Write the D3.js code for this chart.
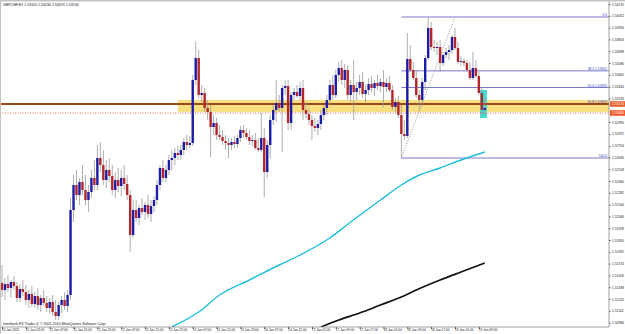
<!DOCTYPE html>
<html>
<head>
<meta charset="utf-8">
<script src="https://cdn.jsdelivr.net/npm/d3@7"></script>
<style>
body{margin:0;background:#fff;}
svg{display:block;}
text{font-family:"Liberation Sans",Arial,sans-serif;}
</style>
</head>
<body>
<div class="plots"></div>
<script>
var symbol = "GBPCHF,H1";

// hourly bars, 10 Jan - 19 Jan 2011
var opens = [1.5138,1.5131,1.5137,1.5133,1.5139,1.5135,1.5123,1.5132,1.5129,1.5121,1.5127,1.5117,1.5125,1.5116,1.5123,1.5118,1.5113,1.5119,1.5109,1.5105,
1.5116,1.5121,1.5115,1.5126,1.5211,1.5236,1.5226,1.5239,1.5231,1.5221,1.5229,1.5243,1.5236,1.5263,1.5256,1.5241,1.5251,1.5245,1.5231,1.5241,
1.5235,1.5243,1.5237,1.5226,1.5186,1.5211,1.5203,1.5213,1.5209,1.5216,1.5207,1.5215,1.5221,1.5236,1.5253,1.5243,1.5251,1.5261,1.5263,1.5268,
1.5266,1.5271,1.5279,1.5276,1.5278,1.5341,1.5363,1.5326,1.5328,1.5313,1.5309,1.5294,1.5298,1.5286,1.5284,1.5280,1.5278,1.5276,1.5279,1.5277,
1.5283,1.5291,1.5288,1.5284,1.5280,1.5281,1.5273,1.5271,1.5283,1.5249,1.5276,1.5301,1.5311,1.5318,1.5313,1.5333,1.5335,1.5298,1.5326,1.5329,
1.5325,1.5333,1.5311,1.5307,1.5301,1.5295,1.5293,1.5297,1.5306,1.5313,1.5321,1.5336,1.5326,1.5346,1.5353,1.5341,1.5351,1.5326,1.5336,1.5329,
1.5333,1.5339,1.5327,1.5331,1.5337,1.5333,1.5338,1.5335,1.5339,1.5334,1.5338,1.5331,1.5314,1.5319,1.5306,1.5287,1.5285,1.5362,1.5351,1.5343,
1.5326,1.5321,1.5339,1.5363,1.5393,1.5374,1.5373,1.5374,1.5358,1.5366,1.5369,1.5371,1.5384,1.5373,1.5359,1.5360,1.5358,1.5351,1.5343,1.5353,
1.5345,1.5328,1.5311];
var highs = [1.5156,1.5143,1.5146,1.5141,1.5145,1.5139,1.5137,1.5141,1.5136,1.5131,1.5135,1.5129,1.5133,1.5126,1.5131,1.5125,1.5123,1.5126,1.5121,1.5119,
1.5125,1.5129,1.5131,1.5223,1.5246,1.5251,1.5243,1.5256,1.5246,1.5236,1.5251,1.5261,1.5276,1.5279,1.5271,1.5261,1.5263,1.5256,1.5249,1.5253,
1.5251,1.5256,1.5246,1.5231,1.5221,1.5221,1.5216,1.5223,1.5219,1.5226,1.5221,1.5225,1.5241,1.5256,1.5261,1.5256,1.5266,1.5271,1.5273,1.5275,
1.5276,1.5283,1.5286,1.5285,1.5346,1.5379,1.5371,1.5336,1.5333,1.5321,1.5316,1.5306,1.5303,1.5296,1.5291,1.5286,1.5283,1.5283,1.5285,1.5286,
1.5295,1.5296,1.5293,1.5291,1.5286,1.5288,1.5283,1.5308,1.5293,1.5281,1.5306,1.5316,1.5341,1.5326,1.5336,1.5341,1.5341,1.5329,1.5333,1.5336,
1.5339,1.5341,1.5319,1.5313,1.5306,1.5303,1.5301,1.5311,1.5316,1.5326,1.5341,1.5346,1.5351,1.5359,1.5361,1.5357,1.5356,1.5341,1.5361,1.5339,
1.5346,1.5349,1.5336,1.5343,1.5345,1.5341,1.5346,1.5343,1.5351,1.5343,1.5345,1.5336,1.5323,1.5325,1.5316,1.5301,1.5388,1.5376,1.5359,1.5351,
1.5331,1.5343,1.5366,1.5404,1.5399,1.5381,1.5379,1.5381,1.5369,1.5373,1.5376,1.5386,1.5393,1.5379,1.5365,1.5363,1.5361,1.5359,1.5369,1.5361,
1.5349,1.5333,1.5323];
var lows = [1.5124,1.5121,1.5129,1.5123,1.5131,1.5119,1.5119,1.5125,1.5116,1.5113,1.5114,1.5113,1.5111,1.5109,1.5115,1.5109,1.5107,1.5105,1.5101,1.5101,
1.5108,1.5111,1.5109,1.5121,1.5199,1.5221,1.5216,1.5226,1.5216,1.5209,1.5223,1.5231,1.5231,1.5249,1.5236,1.5233,1.5239,1.5226,1.5223,1.5229,
1.5225,1.5231,1.5221,1.5169,1.5183,1.5199,1.5196,1.5206,1.5201,1.5203,1.5199,1.5209,1.5216,1.5231,1.5239,1.5239,1.5246,1.5251,1.5256,1.5261,
1.5261,1.5266,1.5271,1.5273,1.5275,1.5336,1.5323,1.5319,1.5309,1.5301,1.5264,1.5286,1.5281,1.5281,1.5276,1.5271,1.5263,1.5271,1.5273,1.5273,
1.5279,1.5283,1.5281,1.5276,1.5275,1.5271,1.5269,1.5269,1.5224,1.5243,1.5263,1.5296,1.5299,1.5309,1.5269,1.5326,1.5291,1.5291,1.5321,1.5323,
1.5321,1.5301,1.5303,1.5296,1.5281,1.5289,1.5286,1.5291,1.5301,1.5306,1.5316,1.5321,1.5323,1.5339,1.5336,1.5333,1.5321,1.5319,1.5301,1.5321,
1.5326,1.5323,1.5319,1.5326,1.5329,1.5325,1.5331,1.5329,1.5314,1.5329,1.5329,1.5311,1.5309,1.5303,1.5263,1.5281,1.5283,1.5349,1.5341,1.5323,
1.5311,1.5315,1.5331,1.5361,1.5371,1.5369,1.5366,1.5349,1.5355,1.5363,1.5361,1.5367,1.5371,1.5357,1.5355,1.5355,1.5349,1.5341,1.5341,1.5343,
1.5326,1.5305,1.5307];
var closes = [1.5131,1.5137,1.5133,1.5139,1.5135,1.5123,1.5132,1.5129,1.5121,1.5127,1.5117,1.5125,1.5116,1.5123,1.5118,1.5113,1.5119,1.5109,1.5105,1.5116,
1.5121,1.5115,1.5126,1.5211,1.5236,1.5226,1.5239,1.5231,1.5221,1.5229,1.5243,1.5236,1.5263,1.5256,1.5241,1.5251,1.5245,1.5231,1.5241,1.5235,
1.5243,1.5237,1.5226,1.5186,1.5211,1.5203,1.5213,1.5209,1.5216,1.5207,1.5215,1.5221,1.5236,1.5253,1.5243,1.5251,1.5261,1.5263,1.5268,1.5266,
1.5271,1.5279,1.5276,1.5278,1.5341,1.5363,1.5326,1.5328,1.5313,1.5309,1.5294,1.5298,1.5286,1.5284,1.5280,1.5278,1.5276,1.5279,1.5277,1.5283,
1.5291,1.5288,1.5284,1.5280,1.5281,1.5273,1.5271,1.5283,1.5249,1.5276,1.5301,1.5311,1.5318,1.5313,1.5333,1.5335,1.5298,1.5326,1.5329,1.5325,
1.5333,1.5311,1.5307,1.5301,1.5295,1.5293,1.5297,1.5306,1.5313,1.5321,1.5336,1.5326,1.5346,1.5353,1.5341,1.5351,1.5326,1.5336,1.5329,1.5333,
1.5339,1.5327,1.5331,1.5337,1.5333,1.5338,1.5335,1.5339,1.5334,1.5338,1.5331,1.5314,1.5319,1.5306,1.5287,1.5285,1.5362,1.5351,1.5343,1.5326,
1.5321,1.5339,1.5363,1.5393,1.5374,1.5373,1.5374,1.5358,1.5366,1.5369,1.5371,1.5384,1.5373,1.5359,1.5360,1.5358,1.5351,1.5343,1.5353,1.5345,
1.5328,1.5311,1.5313];

var timeLabels = ["10 Jan 2011","10 Jan 23:00","11 Jan 07:00","11 Jan 15:00","11 Jan 23:00","12 Jan 07:00","12 Jan 15:00",
"12 Jan 23:00","13 Jan 07:00","13 Jan 15:00","13 Jan 23:00","14 Jan 07:00","14 Jan 15:00","17 Jan 01:00",
"17 Jan 09:00","17 Jan 17:00","18 Jan 01:00","18 Jan 09:00","18 Jan 17:00","19 Jan 01:00","19 Jan 09:00"];
var priceTicks = [1.54170,1.54052,1.53934,1.53816,1.53698,1.53580,1.53462,1.53344,1.53226,1.53108,1.52990,1.52872,1.52754,1.52636,
1.52518,1.52400,1.52282,1.52164,1.52046,1.51928,1.51810,1.51692,1.51574,1.51456,1.51338,1.51220,1.51102,1.50984];

// moving averages, read at a few bars
var maCyanIdx = [57,66,73,83,93,100,110,117,127,134,140,147,154,162];
var maCyanVal = [1.5094,1.5109,1.5126,1.5141,1.5156,1.5166,1.5183,1.5199,1.5221,1.5236,1.5246,1.5253,1.5261,1.5269];
var maBlackIdx = [107,113,120,127,134,139,147,154,162];
var maBlackVal = [1.5094,1.5101,1.5108,1.5116,1.5124,1.5131,1.5141,1.5149,1.5158];

// objects
var fibFrom = 134, fibTo = 152, fibLow = 1.5263, fibHigh = 1.5404;
var fibLevels = [0, 38.2, 50, 61.8, 100];
var fibNames = ["0.0", "38.2 1.53501", "50.0 1.53335", "61.8 1.53169", "100.0"];
var zoneFrom = 59, zoneTop = 1.5321, zoneBottom = 1.5309;
var hLevel = 1.5317, dotLevel = 1.5308;
var boxFrom = 160.4, boxTo = 162.7, boxTop = 1.5331, boxBottom = 1.5303;

var width = 625, height = 334, plotR = 609, plotB = 327;

var svg = d3.select(".plots").append("svg")
    .attr("width", width)
    .attr("height", height);

var x = d3.scaleLinear().domain([0, 162]).range([2, 484.8]);
var y = d3.scaleLinear().domain([1.5421, 1.5087]).range([0, 334]);

svg.append("clipPath").attr("id", "plot")
  .append("rect").attr("x", 0).attr("y", 0).attr("width", plotR).attr("height", plotB);

var g = svg.append("g").attr("clip-path", "url(#plot)");

// yellow zone
g.append("rect")
    .attr("x", x(zoneFrom)).attr("y", y(zoneTop))
    .attr("width", plotR - x(zoneFrom)).attr("height", y(zoneBottom) - y(zoneTop))
    .attr("fill", "#f7df82");

// turquoise box
g.append("rect")
    .attr("x", x(boxFrom)).attr("y", y(boxTop))
    .attr("width", x(boxTo) - x(boxFrom)).attr("height", y(boxBottom) - y(boxTop))
    .attr("fill", "#3fdcd2");

// fibo levels
var fibY = function(l) { return y(fibHigh - (fibHigh - fibLow) * l / 100); };
g.selectAll(".fib").data(fibLevels).enter().append("line")
    .attr("x1", x(fibFrom)).attr("x2", plotR)
    .attr("y1", fibY).attr("y2", fibY)
    .attr("stroke", "#6a6ac8").attr("stroke-width", 0.9);
g.append("line")
    .attr("x1", x(fibFrom)).attr("y1", y(fibLow))
    .attr("x2", x(fibTo)).attr("y2", y(fibHigh))
    .attr("stroke", "#777").attr("stroke-width", 0.8)
    .attr("stroke-dasharray", "1,1.5");
g.selectAll(".fibtxt").data(fibLevels).enter().append("text")
    .attr("x", 607).attr("y", function(d) { return fibY(d) - 1; })
    .attr("text-anchor", "end")
    .attr("font-size", 3.3)
    .attr("fill", "#3a3ac0")
    .text(function(d, i) { return fibNames[i]; });

// horizontal lines
g.append("line")
    .attr("x1", 0).attr("x2", plotR).attr("y1", y(hLevel)).attr("y2", y(hLevel))
    .attr("stroke", "#9a4a1e").attr("stroke-width", 1.8);
g.append("line")
    .attr("x1", 0).attr("x2", plotR).attr("y1", y(dotLevel)).attr("y2", y(dotLevel))
    .attr("stroke", "#e0452a").attr("stroke-width", 0.8).attr("stroke-dasharray", "1,1.5");

// moving averages
var line = d3.line()
    .x(function(d) { return x(d[0]); })
    .y(function(d) { return y(d[1]); })
    .curve(d3.curveMonotoneX);
g.append("path")
    .datum(d3.zip(maCyanIdx, maCyanVal))
    .attr("fill", "none").attr("stroke", "#1fbfdc").attr("stroke-width", 1.4)
    .attr("d", line);
g.append("path")
    .datum(d3.zip(maBlackIdx, maBlackVal))
    .attr("fill", "none").attr("stroke", "#111").attr("stroke-width", 1.7)
    .attr("d", line);

// candles
var bars = d3.range(opens.length);
var candle = g.selectAll(".bar").data(bars).enter().append("g");
candle.append("line")
    .attr("x1", function(i) { return x(i); }).attr("x2", function(i) { return x(i); })
    .attr("y1", function(i) { return y(highs[i]); }).attr("y2", function(i) { return y(lows[i]); })
    .attr("stroke", "#9a9a9a").attr("stroke-width", 0.8);
candle.append("rect")
    .attr("x", function(i) { return x(i) - 1.2; })
    .attr("width", 2.4)
    .attr("y", function(i) { return y(Math.max(opens[i], closes[i])); })
    .attr("height", function(i) { return Math.max(0.8, Math.abs(y(opens[i]) - y(closes[i]))); })
    .attr("fill", function(i) { return closes[i] >= opens[i] ? "#1c1ca6" : "#b3262a"; });

// texts in the chart
var last = opens.length - 1;
var f5 = d3.format(".5f");
svg.append("text")
    .attr("x", 3).attr("y", 6).attr("font-size", 3.6).attr("fill", "#111")
    .text(symbol + "  " + [opens[last], highs[last], lows[last], closes[last]].map(f5).join(" "));
svg.append("text")
    .attr("x", 3).attr("y", 325).attr("font-size", 3.6).attr("fill", "#111")
    .text("Interbank FX Trader 4, \u00a9 2001-2010 MetaQuotes Software Corp.");

// axes
var tags = [hLevel, dotLevel];
// tick labels hidden behind the line tags are left out
var shownTicks = priceTicks.filter(function(p) {
  return tags.every(function(t) { return Math.abs(y(p) - y(t)) > 5; });
});
var yAxis = d3.axisRight(y).tickValues(shownTicks).tickSize(1.5).tickFormat(f5);
var ya = svg.append("g").attr("transform", "translate(" + plotR + ",0)").call(yAxis);
ya.select(".domain").remove();
ya.selectAll("text").attr("font-size", 3.3).attr("x", 3).attr("fill", "#222");
ya.selectAll("line").attr("stroke", "#444");

var xAxis = d3.axisBottom(x).tickValues(d3.range(0, 161, 8)).tickSize(2)
    .tickFormat(function(d, i) { return timeLabels[i]; });
var xa = svg.append("g").attr("transform", "translate(0," + plotB + ")").call(xAxis);
xa.select(".domain").remove();
xa.selectAll("text").attr("font-size", 3.2).attr("text-anchor", "start").attr("dx", -0.5).attr("y", 2).attr("fill", "#222");
xa.selectAll("line").attr("stroke", "#444");

svg.append("line").attr("x1", 0).attr("x2", plotR).attr("y1", plotB).attr("y2", plotB)
    .attr("stroke", "#888").attr("stroke-width", 0.8);
svg.append("line").attr("x1", plotR).attr("x2", plotR).attr("y1", 0).attr("y2", plotB)
    .attr("stroke", "#888").attr("stroke-width", 0.8);

// price labels of the lines
var tg = svg.selectAll(".tag").data(tags).enter().append("g");
tg.append("rect")
    .attr("x", plotR + 1).attr("y", function(d) { return y(d) - 2.8; })
    .attr("width", 15).attr("height", 5.6)
    .attr("fill", function(d, i) { return i == 0 ? "#e9602e" : "#f0582a"; });
tg.append("text")
    .attr("x", plotR + 3).attr("y", function(d) { return y(d) + 1.2; })
    .attr("font-size", 3.3).attr("fill", "#fff")
    .text(f5);

// window frame
svg.append("rect").attr("x", 0).attr("y", 0).attr("width", width).attr("height", 1.5).attr("fill", "#c4c4c4");
svg.append("rect").attr("x", 0).attr("y", 0).attr("width", 1).attr("height", height).attr("fill", "#c4c4c4");
</script>
</body>
</html>
